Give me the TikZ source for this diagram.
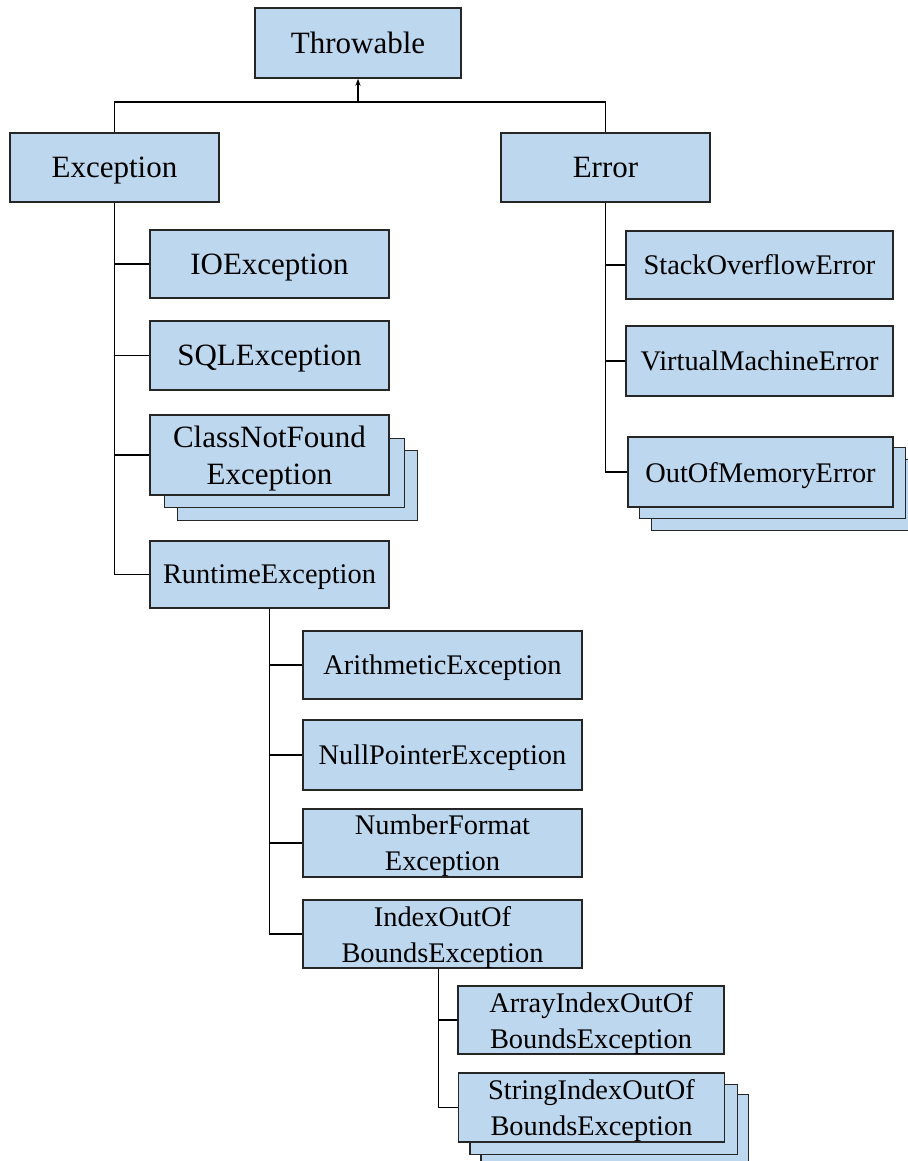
\documentclass[tikz,border=0pt]{standalone}
\usepackage{fontspec}
\setmainfont{Liberation Serif}
\usepackage{tikz}
\usetikzlibrary{arrows.meta}
\usetikzlibrary{backgrounds}
\usetikzlibrary{calc}
\definecolor{boxblue}{RGB}{189,215,238}
\tikzstyle{cls}=[draw=black!85, line width=1.4pt, fill=boxblue, rectangle, inner sep=2pt, align=center, text depth=0pt]
\tikzstyle{big}=[cls, font=\fontsize{31}{37}\selectfont]
\tikzstyle{small}=[cls, font=\fontsize{28.4}{36}\selectfont]
\tikzstyle{wire}=[line width=1.3pt, black]

\begin{document}
\begin{tikzpicture}[x=1pt,y=-1pt]
\useasboundingbox (0,0) rectangle (907,1161);
% top level
\node[big, minimum width=206, minimum height=70] (thr) at (358,43) {Throwable};
\node[big, minimum width=209, minimum height=69] (exc) at (114.5,167.5) {Exception};
\node[big, minimum width=209, minimum height=69] (err) at (605.5,167.5) {Error};
% checked exceptions
\node[big, minimum width=239, minimum height=68] (io) at (269.5,264) {IOException};
\node[big, minimum width=239, minimum height=69] (sql) at (269.5,355.5) {SQLException};
\node[big, minimum width=239, minimum height=80] (cnf) at (269.5,455) {ClassNotFound\\Exception};
\node[small, minimum width=239, minimum height=67] (rt) at (269.5,574.5) {RuntimeException};
% runtime exceptions
\node[small, minimum width=279, minimum height=68] (ari) at (442.5,665) {ArithmeticException};
\node[small, minimum width=279, minimum height=70] (npe) at (442.5,755) {NullPointerException};
\node[small, minimum width=279, minimum height=68] (nfe) at (442.5,843) {NumberFormat\\Exception};
\node[small, minimum width=279, minimum height=68] (idx) at (442.5,934) {IndexOutOf\\BoundsException};
\node[small, minimum width=266, minimum height=68] (aio) at (591,1020) {ArrayIndexOutOf\\BoundsException};
\node[small, minimum width=266, minimum height=69] (sio) at (591.5,1107.5) {StringIndexOutOf\\BoundsException};
% errors
\node[small, minimum width=267, minimum height=68] (so) at (759.5,265) {StackOverflowError};
\node[small, minimum width=267, minimum height=70] (vm) at (759.5,361) {VirtualMachineError};
\node[small, minimum width=265, minimum height=70] (oom) at (760.5,472) {OutOfMemoryError};

% stacked copies behind
\begin{scope}[on background layer]
\draw[cls] ($(cnf.south west)+(28,25)$) rectangle ($(cnf.north east)+(28,36)$);
\draw[cls] ($(cnf.south west)+(15,12)$) rectangle ($(cnf.north east)+(15,24)$);
\draw[cls] ($(oom.south west)+(24,23)$) rectangle ($(oom.north east)+(24,23)$);
\draw[cls] ($(oom.south west)+(12,11)$) rectangle ($(oom.north east)+(12,11)$);
\draw[cls] ($(sio.south west)+(23,22)$) rectangle ($(sio.north east)+(23,22)$);
\draw[cls] ($(sio.south west)+(12,12)$) rectangle ($(sio.north east)+(12,12)$);
\end{scope}

% connectors
\coordinate (top) at (thr.south |- 0,102);
\draw[wire, -{Stealth[length=7pt,width=5pt]}] (top) -- (thr.south);
\draw[wire] (exc.north) |- (top) -| (err.north);
\foreach \n in {io,sql,cnf,rt} {
	\draw[wire] (exc.south) |- (\n.west);
}
\foreach \n in {so,vm,oom} {
	\draw[wire] (err.south) |- (\n.west);
}
\foreach \n in {ari,npe,nfe,idx} {
	\draw[wire] (rt.south) |- (\n.west);
}
\foreach \n in {aio,sio} {
	\draw[wire] ([xshift=-4pt]idx.south) |- (\n.west);
}
\end{tikzpicture}
\end{document}
